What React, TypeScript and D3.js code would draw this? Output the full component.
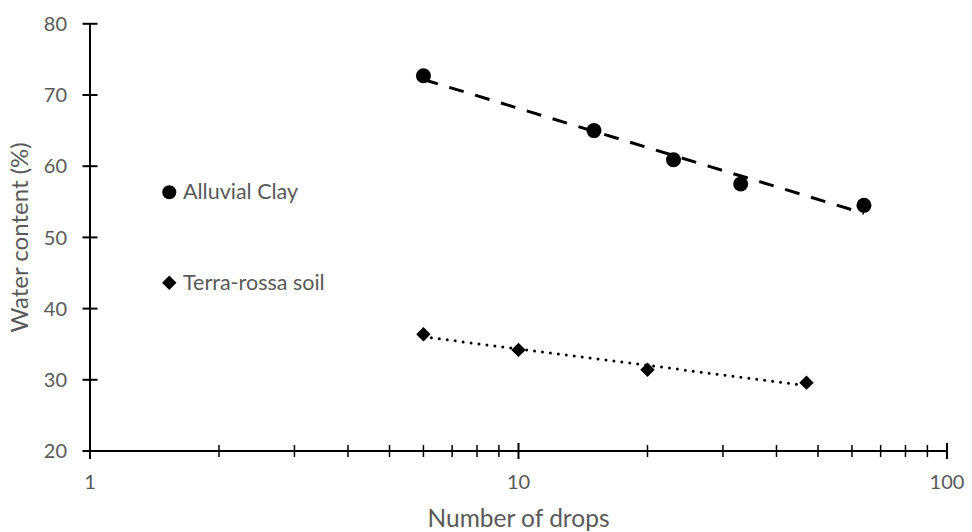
import React from "react";
import * as d3 from "d3";

const clayDrops = [6, 15, 23, 33, 64];
const clayWater = [72.7, 65.0, 60.9, 57.5, 54.5];
const rossaDrops = [6, 10, 20, 47];
const rossaWater = [36.4, 34.2, 31.4, 29.6];
const yTicks = [20, 30, 40, 50, 60, 70, 80];
const xMajorTicks = [1, 10, 100];
const seriesNames = ["Alluvial Clay", "Terra-rossa soil"];

const W = 972;
const H = 532;
const FONT = "Lato, 'Open Sans', sans-serif";
const TXT = "#595959";

function logFit(xs: number[], ys: number[]) {
  const lx = xs.map((v) => Math.log(v));
  const mx = d3.mean(lx) as number;
  const my = d3.mean(ys) as number;
  let sxy = 0, sxx = 0;
  lx.forEach((v, i) => {
    sxy += (v - mx) * (ys[i] - my);
    sxx += (v - mx) * (v - mx);
  });
  const b = sxy / sxx;
  const a = my - b * mx;
  return (x: number) => a + b * Math.log(x);
}

export default function App() {
  const x = d3.scaleLog().domain([1, 100]).range([90, 947]);
  const y = d3.scaleLinear().domain([20, 80]).range([451, 23.8]);

  const minorTicks: number[] = [];
  for (const dec of [1, 10]) for (let k = 2; k <= 9; k++) minorTicks.push(dec * k);

  const clay = clayDrops.map((d, i) => ({ x: d, y: clayWater[i] }));
  const rossa = rossaDrops.map((d, i) => ({ x: d, y: rossaWater[i] }));
  const fClay = logFit(clayDrops, clayWater);
  const fRossa = logFit(rossaDrops, rossaWater);
  const line = d3.line<{ x: number; y: number }>().x((d) => x(d.x)).y((d) => y(d.y));
  const clayTrend = [d3.min(clayDrops)!, d3.max(clayDrops)!].map((v) => ({ x: v, y: fClay(v) }));
  const rossaTrend = [d3.min(rossaDrops)!, d3.max(rossaDrops)!].map((v) => ({ x: v, y: fRossa(v) }));
  const diamond = d3.symbol().type(d3.symbolSquare).size(104)()!;

  const x0 = x.range()[0];
  const y0 = y.range()[0];

  return (
    <svg width={W} height={H} style={{ position: "absolute", left: 0, top: 0, background: "#fff" }}>
      {/* axes */}
      <line x1={x0} x2={x0} y1={y.range()[1]} y2={y0} stroke="#000" strokeWidth={2} />
      <line x1={x0} x2={x.range()[1]} y1={y0} y2={y0} stroke="#000" strokeWidth={2} />
      {yTicks.map((t) => (
        <g key={"y" + t}>
          <line x1={x0 - 7.5} x2={x0 + 7.5} y1={y(t)} y2={y(t)} stroke="#000" strokeWidth={2} />
          <text x={67} y={y(t)} dy="0.36em" textAnchor="end" fontFamily={FONT} fontSize={20} fill={TXT}>
            {t}
          </text>
        </g>
      ))}
      {xMajorTicks.map((t) => (
        <g key={"x" + t}>
          <line x1={x(t)} x2={x(t)} y1={y0 - 8} y2={y0 + 8} stroke="#000" strokeWidth={2} />
          <text x={x(t)} y={489} textAnchor="middle" fontFamily={FONT} fontSize={20} fill={TXT}>
            {t}
          </text>
        </g>
      ))}
      {minorTicks.map((t) => (
        <line key={"m" + t} x1={x(t)} x2={x(t)} y1={y0 - 6} y2={y0 + 6} stroke="#000" strokeWidth={1.5} />
      ))}
      {/* axis titles */}
      <text x={(x.range()[0] + x.range()[1]) / 2} y={527} textAnchor="middle" fontFamily={FONT} fontSize={24.5} fill={TXT}>
        Number of drops
      </text>
      <text
        transform={`translate(28,${(y.range()[0] + y.range()[1]) / 2}) rotate(-90)`}
        textAnchor="middle"
        fontFamily={FONT}
        fontSize={24}
        fill={TXT}
      >
        Water content (%)
      </text>
      {/* trendlines */}
      <path d={line(clayTrend)!} fill="none" stroke="#000" strokeWidth={3} strokeDasharray="15 12" />
      <path d={line(rossaTrend)!} fill="none" stroke="#000" strokeWidth={3} strokeLinecap="round" strokeDasharray="0 8" />
      {/* markers */}
      {clay.map((d, i) => (
        <circle key={"c" + i} cx={x(d.x)} cy={y(d.y)} r={7.5} fill="#000" />
      ))}
      {rossa.map((d, i) => (
        <path key={"r" + i} d={diamond} transform={`translate(${x(d.x)},${y(d.y)}) rotate(45)`} fill="#000" />
      ))}
      {/* legend */}
      <circle cx={169.3} cy={192.3} r={7} fill="#000" />
      <text x={183} y={199} fontFamily={FONT} fontSize={21.5} fill={TXT}>
        {seriesNames[0]}
      </text>
      <path d={diamond} transform="translate(169.3,282.7) rotate(45)" fill="#000" />
      <text x={183} y={290} fontFamily={FONT} fontSize={21.5} fill={TXT}>
        {seriesNames[1]}
      </text>
    </svg>
  );
}
